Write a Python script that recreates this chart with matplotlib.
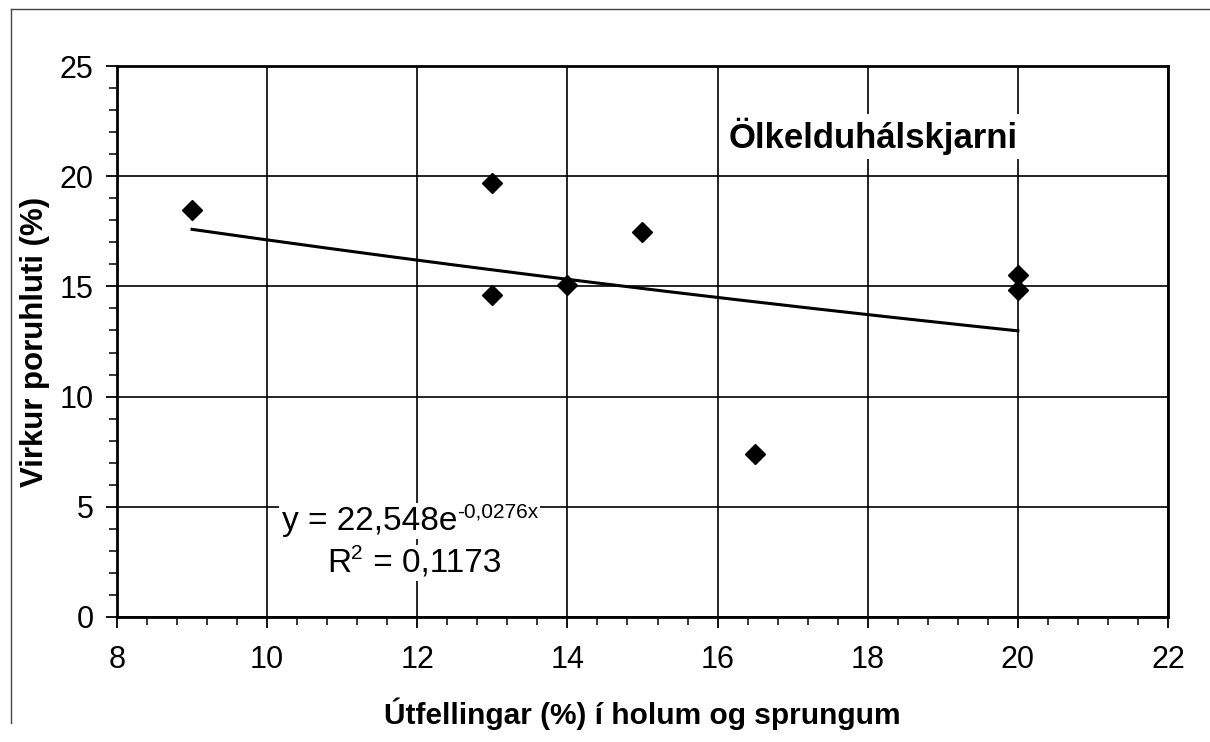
import numpy as np
import matplotlib
matplotlib.use("Agg")
import matplotlib.pyplot as plt
from matplotlib.ticker import MultipleLocator
from matplotlib.lines import Line2D

plt.rcParams['font.family'] = ['Liberation Sans', 'DejaVu Sans']

# Data
x_vals = [9, 13, 13, 14, 15, 16.5, 20, 20]
y_vals = [18.45, 19.7, 14.6, 15.05, 17.45, 7.4, 15.5, 14.85]
fit_a = 22.548
fit_b = -0.0276
fit_range = [9, 20]
eq_base = "y = 22,548e"
eq_sup = "-0,0276x"
r2_base = "R"
r2_sup = "2"
r2_rest = " = 0,1173"
title_text = "Ölkelduhálskjarni"
xlabel = "Útfellingar (%) í holum og sprungum"
ylabel = "Virkur poruhluti (%)"

fig = plt.figure(figsize=(12.1, 7.42), dpi=100)
ax = fig.add_axes([117/1210, 1-617/742, (1168-117)/1210, (617-66)/742])

xf = np.linspace(fit_range[0], fit_range[1], 200)
ax.plot(xf, fit_a*np.exp(fit_b*xf), color='black', lw=2.2, zorder=3)
ax.plot(x_vals, y_vals, linestyle='none', marker='D', color='black', ms=10, zorder=4)

ax.set_xlim(8, 22)
ax.set_ylim(0, 25)
ax.xaxis.set_major_locator(MultipleLocator(2))
ax.xaxis.set_minor_locator(MultipleLocator(0.4))
ax.yaxis.set_major_locator(MultipleLocator(5))
ax.yaxis.set_minor_locator(MultipleLocator(1))
ax.grid(True, which='major', color='black', lw=1.2)
ax.set_axisbelow(True)
for s in ax.spines.values():
    s.set_linewidth(2)
ax.tick_params(which='major', direction='out', length=8, width=1.3, labelsize=22, colors='black')
ax.tick_params(axis='x', which='major', pad=12)
ax.tick_params(axis='y', which='major', pad=9)
ax.tick_params(which='minor', direction='out', length=6, width=1.1)

ax.set_xlabel(xlabel, fontsize=21.5, fontweight='bold', labelpad=16)
ax.set_ylabel(ylabel, fontsize=22.5, fontweight='bold', labelpad=7)

ax.text(18.07, 21.8, title_text, fontsize=25, fontweight='bold', ha='center', va='center',
        bbox=dict(facecolor='white', edgecolor='none', pad=3), zorder=5)

bb = dict(facecolor='white', edgecolor='none', pad=2)
t1 = ax.text(10.2, 4.35, eq_base, fontsize=24, ha='left', va='center', bbox=bb, zorder=5)
ax.annotate(eq_sup, xy=(1, 0.8), xycoords=t1, ha='left', va='center', fontsize=15,
            bbox=dict(facecolor='white', edgecolor='none', pad=1), zorder=5)
t2 = ax.text(10.8, 2.45, r2_base, fontsize=24, ha='left', va='center', bbox=bb, zorder=5)
ax.annotate(r2_rest, xy=(1.0, 0.5), xycoords=t2, xytext=(9, 0), textcoords='offset points',
            ha='left', va='center', fontsize=24, bbox=bb, zorder=5)
ax.annotate(r2_sup, xy=(1, 0.8), xycoords=t2, ha='left', va='center', fontsize=15, zorder=6)

# outer frame
fig.add_artist(Line2D([11/1210, 11/1210], [1-723/742, 1-9/742], transform=fig.transFigure, color='#444444', lw=1))
fig.add_artist(Line2D([11/1210, 1.0], [1-9/742, 1-9/742], transform=fig.transFigure, color='#444444', lw=1))

fig.savefig("out.png", dpi=100)
